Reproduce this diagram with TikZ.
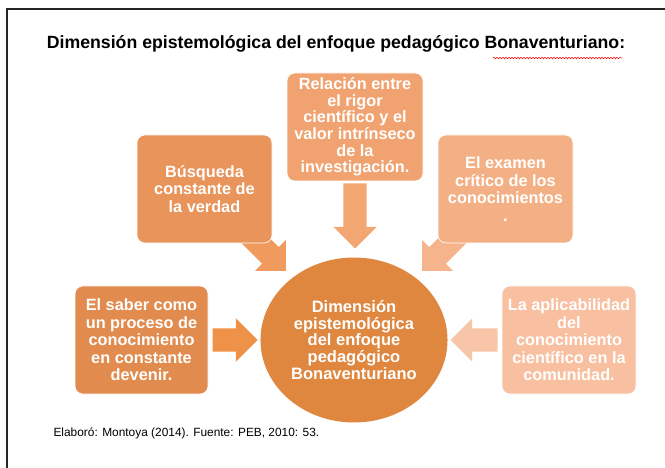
\documentclass[tikz,border=0pt]{standalone}
\usepackage{fontspec}
\setmainfont{Liberation Sans}
\usetikzlibrary{shapes.arrows,shapes.geometric,decorations.pathmorphing}

\definecolor{circulo}{RGB}{223,135,63}
\definecolor{cajaA}{RGB}{225,139,78}
\definecolor{cajaB}{RGB}{232,148,90}
\definecolor{cajaC}{RGB}{240,163,112}
\definecolor{cajaD}{RGB}{244,176,133}
\definecolor{cajaE}{RGB}{248,192,160}
\definecolor{flechaA}{RGB}{238,146,72}
\definecolor{flechaB}{RGB}{240,155,93}
\definecolor{flechaC}{RGB}{242,166,113}
\definecolor{flechaD}{RGB}{245,180,140}
\definecolor{flechaE}{RGB}{248,197,168}

\pgfdeclarelayer{back}
\pgfsetlayers{back,main}

\tikzset{
  caja/.style={draw=white, line width=0.6pt, fill=#1, rounded corners=8pt,
    text=white, align=center, minimum width=135pt, minimum height=108pt,
    inner sep=2pt, font=\bfseries\fontsize{16.3}{17.5}\selectfont},
  bloque/.style={single arrow, fill=#1, draw=none, inner xsep=0pt, inner ysep=11.5pt,
    minimum width=43pt, single arrow head extend=10pt, single arrow tip angle=90}
}

\begin{document}
\begin{tikzpicture}[x=1pt,y=-1pt]

\useasboundingbox (0,0) rectangle (665,468);
\draw[line width=2pt, black!85] (7,468) -- (7,9) -- (665,9);

\node[font=\bfseries\fontsize{17.7}{20}\selectfont] (titulo) at (336,44)
  {Dimensión epistemológica del enfoque pedagógico Bonaventuriano:};
\draw[red, line width=0.5pt, decorate, decoration={snake, amplitude=0.8pt, segment length=3pt}]
  (493,58) -- (622,58);

\node[caja=cajaC, minimum width=136pt, font=\bfseries\fontsize{16.3}{16.7}\selectfont] (relacion) at (355,127)
  {Relación entre\\el rigor\\científico y el\\valor intrínseco\\de la\\investigación.};
\node[caja=cajaB] (busqueda) at (204.5,189) {Búsqueda\\constante de\\la verdad};
\node[caja=cajaD] (examen) at (505.5,189) {El examen\\crítico de los\\conocimientos\\.};
\node[caja=cajaA, minimum width=133pt] (saber) at (141.5,340)
  {El saber como\\un proceso de\\conocimiento\\en constante\\devenir.};
\node[caja=cajaE, minimum width=134pt] (aplic) at (569,340)
  {La aplicabilidad\\del\\conocimiento\\científico en la\\comunidad.};

\node[ellipse, fill=circulo, minimum width=176pt, minimum height=165pt, text=white,
  align=center, font=\bfseries\fontsize{16.5}{16.7}\selectfont] (centro) at (354,340)
  {Dimensión\\epistemológica\\del enfoque\\pedagógico\\Bonaventuriano};

\begin{pgfonlayer}{back}
\node[bloque=flechaA, minimum height=45pt, anchor=tail] (fsaber) at ([xshift=4pt]saber.east) {};
\node[bloque=flechaE, minimum height=47pt, anchor=tail, rotate=180] (faplic) at ([xshift=-4pt]aplic.west) {};
\node[bloque=flechaC, minimum height=65pt, anchor=tail, rotate=-90] (frelacion) at ([yshift=-2pt]relacion.south) {};
\node[bloque=flechaB, minimum height=54pt, anchor=tip, rotate=-45] (fbusqueda) at ([shift={(-6,-7)}]centro.135) {};
\node[bloque=flechaD, minimum height=54pt, anchor=tip, rotate=-135] (fexamen) at ([shift={(6,-7)}]centro.45) {};
\end{pgfonlayer}

\node[anchor=west, font=\fontsize{11.9}{14}\selectfont] (fuente) at (50,433)
  {Elaboró: Montoya (2014). Fuente: PEB, 2010: 53.};

\end{tikzpicture}
\end{document}
